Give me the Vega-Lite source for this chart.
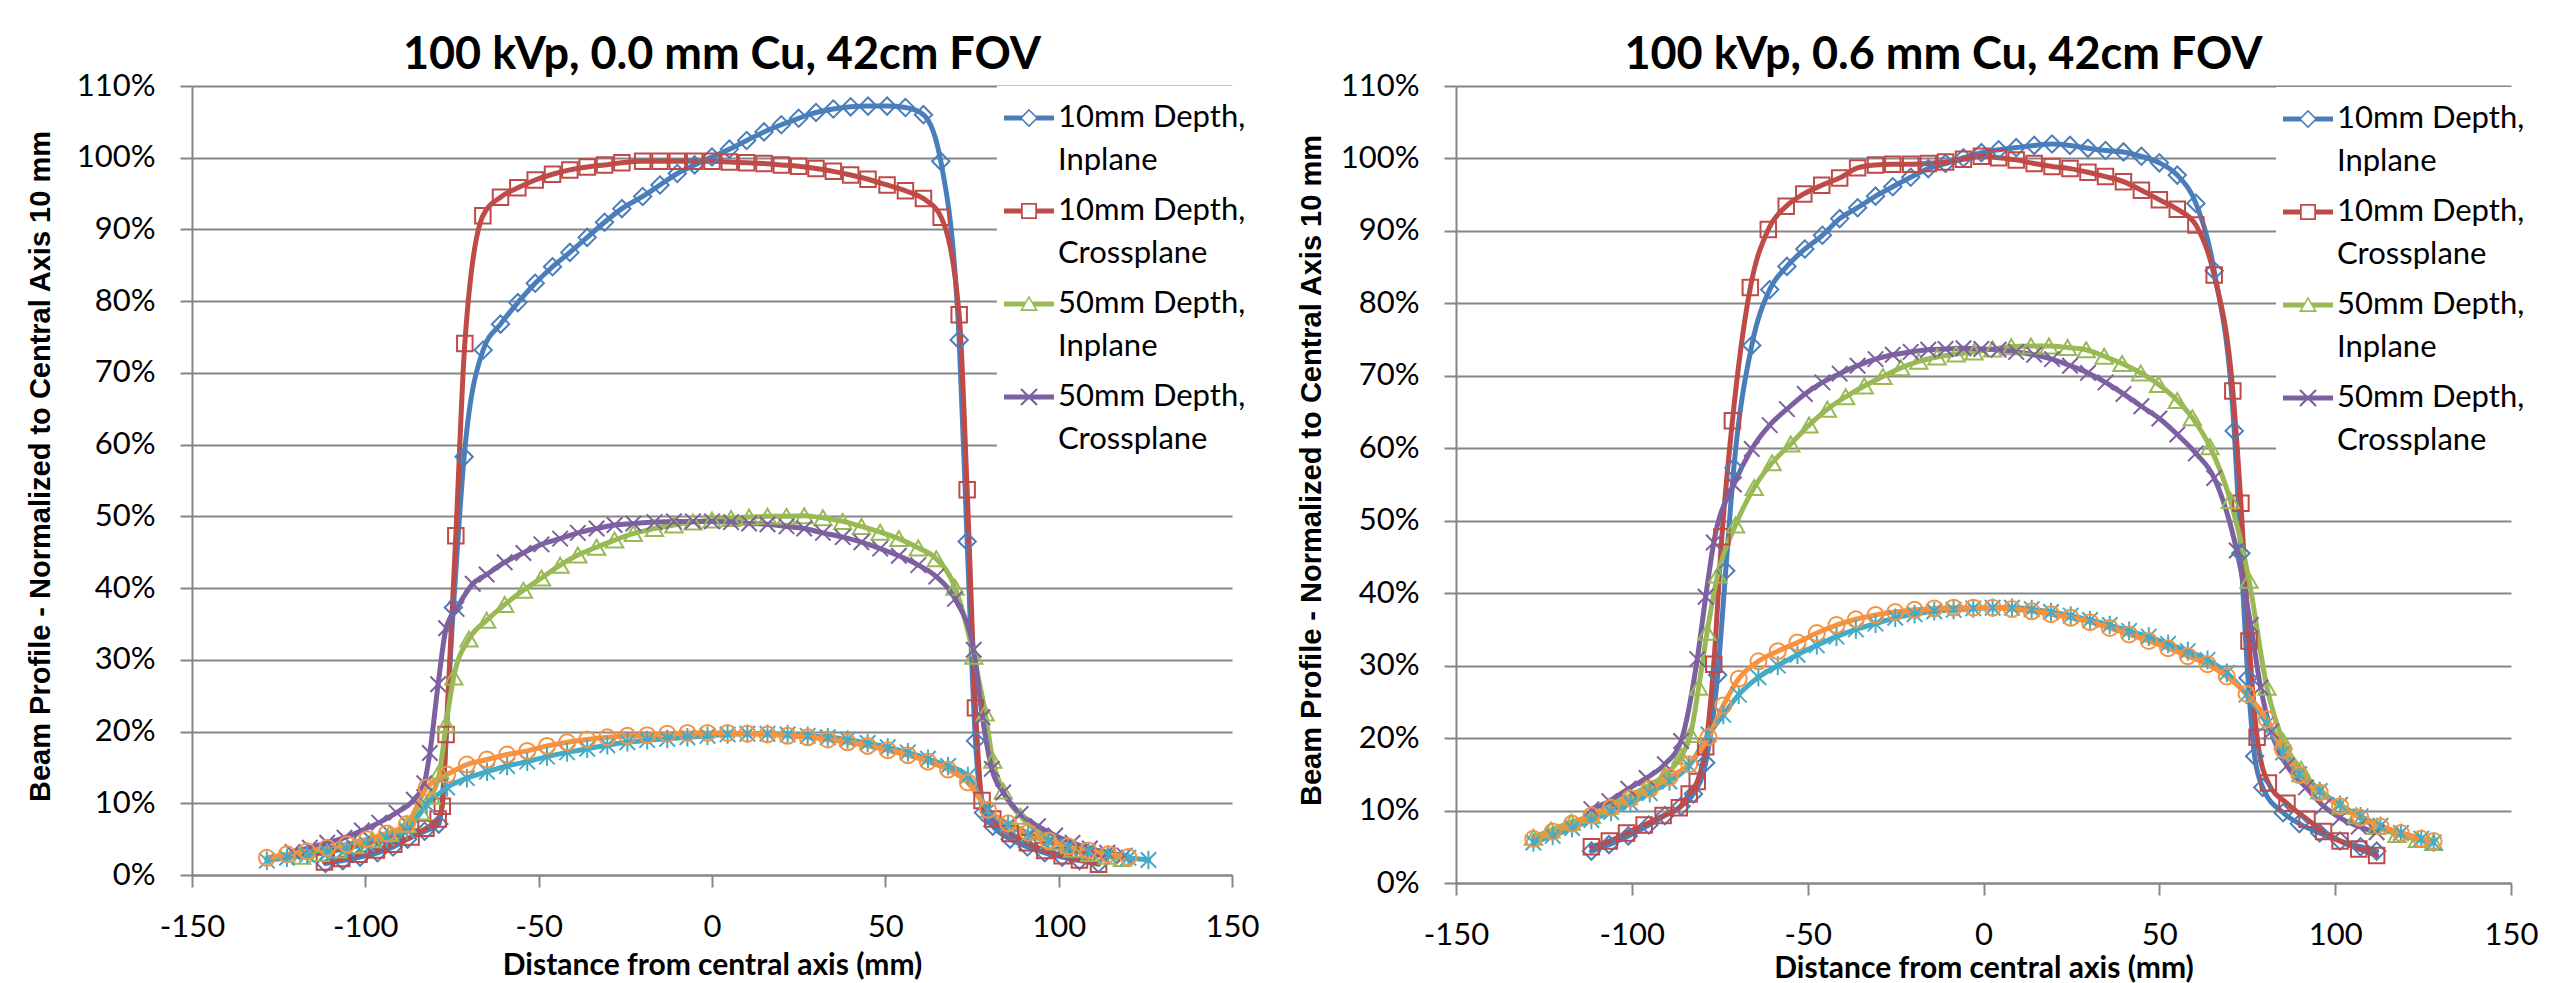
{
"$schema": "https://vega.github.io/schema/vega-lite/v6.json",
"background": "white",
"padding": {"left": 26, "top": 33, "right": 5, "bottom": 5},
"bounds": "flush",
"spacing": 224,
"datasets": {
"left": [
{"series":"10mm Depth, Inplane","x":-111.5,"y":1.6},{"series":"10mm Depth, Inplane","x":-106.5,"y":2.0},{"series":"10mm Depth, Inplane","x":-101.5,"y":2.5},{"series":"10mm Depth, Inplane","x":-96.5,"y":3.1},{"series":"10mm Depth, Inplane","x":-92,"y":3.9},{"series":"10mm Depth, Inplane","x":-87.8,"y":5.0},{"series":"10mm Depth, Inplane","x":-82.9,"y":6.1},{"series":"10mm Depth, Inplane","x":-78.8,"y":7.1},{"series":"10mm Depth, Inplane","x":-74.6,"y":37.3},{"series":"10mm Depth, Inplane","x":-71.5,"y":58.3},{"series":"10mm Depth, Inplane","x":-66,"y":73.2},{"series":"10mm Depth, Inplane","x":-61,"y":76.8},{"series":"10mm Depth, Inplane","x":-56,"y":79.8},{"series":"10mm Depth, Inplane","x":-51,"y":82.5},{"series":"10mm Depth, Inplane","x":-46,"y":84.8},{"series":"10mm Depth, Inplane","x":-41,"y":86.8},{"series":"10mm Depth, Inplane","x":-36,"y":88.9},{"series":"10mm Depth, Inplane","x":-31,"y":91.0},{"series":"10mm Depth, Inplane","x":-26,"y":92.9},{"series":"10mm Depth, Inplane","x":-20,"y":94.6},{"series":"10mm Depth, Inplane","x":-15,"y":96.2},{"series":"10mm Depth, Inplane","x":-10,"y":97.8},{"series":"10mm Depth, Inplane","x":-5,"y":99.0},{"series":"10mm Depth, Inplane","x":0,"y":100.1},{"series":"10mm Depth, Inplane","x":5,"y":101.2},{"series":"10mm Depth, Inplane","x":10,"y":102.4},{"series":"10mm Depth, Inplane","x":15,"y":103.6},{"series":"10mm Depth, Inplane","x":20,"y":104.6},{"series":"10mm Depth, Inplane","x":25,"y":105.5},{"series":"10mm Depth, Inplane","x":30,"y":106.3},{"series":"10mm Depth, Inplane","x":35,"y":106.8},{"series":"10mm Depth, Inplane","x":40,"y":107.1},{"series":"10mm Depth, Inplane","x":45,"y":107.2},{"series":"10mm Depth, Inplane","x":50.5,"y":107.2},{"series":"10mm Depth, Inplane","x":55.8,"y":107.0},{"series":"10mm Depth, Inplane","x":61,"y":106.0},{"series":"10mm Depth, Inplane","x":66,"y":99.5},{"series":"10mm Depth, Inplane","x":71.3,"y":74.6},{"series":"10mm Depth, Inplane","x":73.6,"y":46.5},{"series":"10mm Depth, Inplane","x":76,"y":18.7},{"series":"10mm Depth, Inplane","x":78.3,"y":8.7},{"series":"10mm Depth, Inplane","x":81,"y":6.8},{"series":"10mm Depth, Inplane","x":86,"y":5.0},{"series":"10mm Depth, Inplane","x":91,"y":3.9},{"series":"10mm Depth, Inplane","x":96,"y":3.1},{"series":"10mm Depth, Inplane","x":101,"y":2.5},{"series":"10mm Depth, Inplane","x":106,"y":2.0},{"series":"10mm Depth, Inplane","x":111.5,"y":1.6},
{"series":"10mm Depth, Crossplane","x":-111.8,"y":1.8},{"series":"10mm Depth, Crossplane","x":-106.8,"y":2.3},{"series":"10mm Depth, Crossplane","x":-101.8,"y":2.9},{"series":"10mm Depth, Crossplane","x":-96.8,"y":3.5},{"series":"10mm Depth, Crossplane","x":-91.8,"y":4.3},{"series":"10mm Depth, Crossplane","x":-86.8,"y":5.3},{"series":"10mm Depth, Crossplane","x":-82.5,"y":6.5},{"series":"10mm Depth, Crossplane","x":-79,"y":7.8},{"series":"10mm Depth, Crossplane","x":-77.8,"y":9.6},{"series":"10mm Depth, Crossplane","x":-76.7,"y":19.6},{"series":"10mm Depth, Crossplane","x":-73.9,"y":47.3},{"series":"10mm Depth, Crossplane","x":-71.3,"y":74.1},{"series":"10mm Depth, Crossplane","x":-66.1,"y":91.9},{"series":"10mm Depth, Crossplane","x":-61,"y":94.5},{"series":"10mm Depth, Crossplane","x":-56,"y":95.8},{"series":"10mm Depth, Crossplane","x":-51,"y":96.9},{"series":"10mm Depth, Crossplane","x":-46,"y":97.7},{"series":"10mm Depth, Crossplane","x":-41,"y":98.3},{"series":"10mm Depth, Crossplane","x":-36,"y":98.7},{"series":"10mm Depth, Crossplane","x":-31,"y":99.0},{"series":"10mm Depth, Crossplane","x":-26,"y":99.3},{"series":"10mm Depth, Crossplane","x":-20,"y":99.5},{"series":"10mm Depth, Crossplane","x":-15,"y":99.5},{"series":"10mm Depth, Crossplane","x":-10,"y":99.5},{"series":"10mm Depth, Crossplane","x":-5,"y":99.5},{"series":"10mm Depth, Crossplane","x":0,"y":99.5},{"series":"10mm Depth, Crossplane","x":5,"y":99.4},{"series":"10mm Depth, Crossplane","x":10,"y":99.3},{"series":"10mm Depth, Crossplane","x":15,"y":99.2},{"series":"10mm Depth, Crossplane","x":20,"y":99.0},{"series":"10mm Depth, Crossplane","x":25,"y":98.8},{"series":"10mm Depth, Crossplane","x":30,"y":98.5},{"series":"10mm Depth, Crossplane","x":35,"y":98.1},{"series":"10mm Depth, Crossplane","x":40,"y":97.6},{"series":"10mm Depth, Crossplane","x":45,"y":97.0},{"series":"10mm Depth, Crossplane","x":50.5,"y":96.2},{"series":"10mm Depth, Crossplane","x":55.8,"y":95.4},{"series":"10mm Depth, Crossplane","x":61,"y":94.3},{"series":"10mm Depth, Crossplane","x":66.1,"y":91.7},{"series":"10mm Depth, Crossplane","x":71.3,"y":78.1},{"series":"10mm Depth, Crossplane","x":73.6,"y":53.7},{"series":"10mm Depth, Crossplane","x":76,"y":23.3},{"series":"10mm Depth, Crossplane","x":77.9,"y":10.4},{"series":"10mm Depth, Crossplane","x":81,"y":7.8},{"series":"10mm Depth, Crossplane","x":86,"y":5.8},{"series":"10mm Depth, Crossplane","x":91,"y":4.5},{"series":"10mm Depth, Crossplane","x":96,"y":3.4},{"series":"10mm Depth, Crossplane","x":101,"y":2.7},{"series":"10mm Depth, Crossplane","x":106,"y":2.1},{"series":"10mm Depth, Crossplane","x":111.5,"y":1.5},
{"series":"50mm Depth, Inplane","x":-118.4,"y":2.6},{"series":"50mm Depth, Inplane","x":-113,"y":3.0},{"series":"50mm Depth, Inplane","x":-108,"y":3.5},{"series":"50mm Depth, Inplane","x":-103,"y":4.1},{"series":"50mm Depth, Inplane","x":-98,"y":4.9},{"series":"50mm Depth, Inplane","x":-93,"y":5.8},{"series":"50mm Depth, Inplane","x":-88,"y":7.0},{"series":"50mm Depth, Inplane","x":-84,"y":8.8},{"series":"50mm Depth, Inplane","x":-81,"y":11.0},{"series":"50mm Depth, Inplane","x":-78.5,"y":14.5},{"series":"50mm Depth, Inplane","x":-76.7,"y":21.0},{"series":"50mm Depth, Inplane","x":-74.5,"y":27.6},{"series":"50mm Depth, Inplane","x":-70.1,"y":32.9},{"series":"50mm Depth, Inplane","x":-65,"y":35.5},{"series":"50mm Depth, Inplane","x":-59.8,"y":37.7},{"series":"50mm Depth, Inplane","x":-54.4,"y":39.7},{"series":"50mm Depth, Inplane","x":-49.2,"y":41.4},{"series":"50mm Depth, Inplane","x":-43.8,"y":43.2},{"series":"50mm Depth, Inplane","x":-38.7,"y":44.6},{"series":"50mm Depth, Inplane","x":-33.3,"y":45.7},{"series":"50mm Depth, Inplane","x":-28.1,"y":46.7},{"series":"50mm Depth, Inplane","x":-22.7,"y":47.6},{"series":"50mm Depth, Inplane","x":-16.6,"y":48.3},{"series":"50mm Depth, Inplane","x":-11,"y":48.8},{"series":"50mm Depth, Inplane","x":-5.5,"y":49.2},{"series":"50mm Depth, Inplane","x":0,"y":49.5},{"series":"50mm Depth, Inplane","x":5.5,"y":49.7},{"series":"50mm Depth, Inplane","x":10.7,"y":49.9},{"series":"50mm Depth, Inplane","x":16,"y":50.0},{"series":"50mm Depth, Inplane","x":21.5,"y":50.0},{"series":"50mm Depth, Inplane","x":26.6,"y":50.1},{"series":"50mm Depth, Inplane","x":32,"y":49.8},{"series":"50mm Depth, Inplane","x":37.7,"y":49.3},{"series":"50mm Depth, Inplane","x":43.1,"y":48.6},{"series":"50mm Depth, Inplane","x":48.5,"y":47.8},{"series":"50mm Depth, Inplane","x":53.9,"y":46.9},{"series":"50mm Depth, Inplane","x":59.5,"y":45.6},{"series":"50mm Depth, Inplane","x":64.7,"y":44.1},{"series":"50mm Depth, Inplane","x":70.1,"y":40.1},{"series":"50mm Depth, Inplane","x":75.5,"y":30.5},{"series":"50mm Depth, Inplane","x":78.8,"y":22.6},{"series":"50mm Depth, Inplane","x":81,"y":16.0},{"series":"50mm Depth, Inplane","x":84,"y":11.7},{"series":"50mm Depth, Inplane","x":89,"y":8.2},{"series":"50mm Depth, Inplane","x":94,"y":6.0},{"series":"50mm Depth, Inplane","x":99,"y":4.6},{"series":"50mm Depth, Inplane","x":104,"y":3.6},{"series":"50mm Depth, Inplane","x":109,"y":3.0},{"series":"50mm Depth, Inplane","x":114,"y":2.6},{"series":"50mm Depth, Inplane","x":118.4,"y":2.3},
{"series":"50mm Depth, Crossplane","x":-121,"y":3.2},{"series":"50mm Depth, Crossplane","x":-116,"y":3.8},{"series":"50mm Depth, Crossplane","x":-111,"y":4.5},{"series":"50mm Depth, Crossplane","x":-106,"y":5.2},{"series":"50mm Depth, Crossplane","x":-101,"y":6.2},{"series":"50mm Depth, Crossplane","x":-96,"y":7.3},{"series":"50mm Depth, Crossplane","x":-91,"y":8.7},{"series":"50mm Depth, Crossplane","x":-86,"y":10.5},{"series":"50mm Depth, Crossplane","x":-83,"y":12.8},{"series":"50mm Depth, Crossplane","x":-81.4,"y":17.0},{"series":"50mm Depth, Crossplane","x":-79,"y":26.6},{"series":"50mm Depth, Crossplane","x":-76.7,"y":34.4},{"series":"50mm Depth, Crossplane","x":-73.7,"y":37.1},{"series":"50mm Depth, Crossplane","x":-69,"y":40.6},{"series":"50mm Depth, Crossplane","x":-65,"y":41.9},{"series":"50mm Depth, Crossplane","x":-59.8,"y":43.6},{"series":"50mm Depth, Crossplane","x":-54.4,"y":44.9},{"series":"50mm Depth, Crossplane","x":-49.2,"y":46.1},{"series":"50mm Depth, Crossplane","x":-43.8,"y":46.9},{"series":"50mm Depth, Crossplane","x":-38.7,"y":47.7},{"series":"50mm Depth, Crossplane","x":-33.3,"y":48.3},{"series":"50mm Depth, Crossplane","x":-28.1,"y":48.8},{"series":"50mm Depth, Crossplane","x":-22.7,"y":49.0},{"series":"50mm Depth, Crossplane","x":-16.6,"y":49.2},{"series":"50mm Depth, Crossplane","x":-11,"y":49.3},{"series":"50mm Depth, Crossplane","x":-5.5,"y":49.3},{"series":"50mm Depth, Crossplane","x":0,"y":49.3},{"series":"50mm Depth, Crossplane","x":5.5,"y":49.2},{"series":"50mm Depth, Crossplane","x":10.7,"y":49.0},{"series":"50mm Depth, Crossplane","x":16,"y":48.9},{"series":"50mm Depth, Crossplane","x":21.5,"y":48.6},{"series":"50mm Depth, Crossplane","x":26.6,"y":48.3},{"series":"50mm Depth, Crossplane","x":32,"y":47.7},{"series":"50mm Depth, Crossplane","x":37.7,"y":47.1},{"series":"50mm Depth, Crossplane","x":43.1,"y":46.4},{"series":"50mm Depth, Crossplane","x":48.5,"y":45.5},{"series":"50mm Depth, Crossplane","x":53.9,"y":44.5},{"series":"50mm Depth, Crossplane","x":59.5,"y":43.2},{"series":"50mm Depth, Crossplane","x":64.7,"y":41.6},{"series":"50mm Depth, Crossplane","x":70.1,"y":38.5},{"series":"50mm Depth, Crossplane","x":75.5,"y":31.4},{"series":"50mm Depth, Crossplane","x":78,"y":22.0},{"series":"50mm Depth, Crossplane","x":80.7,"y":14.8},{"series":"50mm Depth, Crossplane","x":84,"y":11.5},{"series":"50mm Depth, Crossplane","x":89,"y":8.5},{"series":"50mm Depth, Crossplane","x":94,"y":6.8},{"series":"50mm Depth, Crossplane","x":99,"y":5.5},{"series":"50mm Depth, Crossplane","x":104,"y":4.5},{"series":"50mm Depth, Crossplane","x":109,"y":3.7},{"series":"50mm Depth, Crossplane","x":114,"y":3.1},{"series":"50mm Depth, Crossplane","x":119,"y":2.7},
{"series":"100mm Depth, Inplane","x":-128.4,"y":2.0},{"series":"100mm Depth, Inplane","x":-122.6,"y":2.4},{"series":"100mm Depth, Inplane","x":-116.8,"y":2.8},{"series":"100mm Depth, Inplane","x":-111,"y":3.2},{"series":"100mm Depth, Inplane","x":-105.3,"y":3.7},{"series":"100mm Depth, Inplane","x":-99.5,"y":4.3},{"series":"100mm Depth, Inplane","x":-93.8,"y":5.1},{"series":"100mm Depth, Inplane","x":-88,"y":6.2},{"series":"100mm Depth, Inplane","x":-82.3,"y":9.8},{"series":"100mm Depth, Inplane","x":-76.4,"y":12.2},{"series":"100mm Depth, Inplane","x":-70.7,"y":13.5},{"series":"100mm Depth, Inplane","x":-64.9,"y":14.4},{"series":"100mm Depth, Inplane","x":-59.1,"y":15.2},{"series":"100mm Depth, Inplane","x":-53.3,"y":15.8},{"series":"100mm Depth, Inplane","x":-47.6,"y":16.5},{"series":"100mm Depth, Inplane","x":-41.8,"y":17.1},{"series":"100mm Depth, Inplane","x":-36,"y":17.6},{"series":"100mm Depth, Inplane","x":-30.2,"y":18.1},{"series":"100mm Depth, Inplane","x":-24.4,"y":18.5},{"series":"100mm Depth, Inplane","x":-18.7,"y":18.8},{"series":"100mm Depth, Inplane","x":-12.9,"y":19.0},{"series":"100mm Depth, Inplane","x":-7.1,"y":19.2},{"series":"100mm Depth, Inplane","x":-1.3,"y":19.4},{"series":"100mm Depth, Inplane","x":4.5,"y":19.6},{"series":"100mm Depth, Inplane","x":10.2,"y":19.7},{"series":"100mm Depth, Inplane","x":16,"y":19.7},{"series":"100mm Depth, Inplane","x":21.8,"y":19.6},{"series":"100mm Depth, Inplane","x":27.6,"y":19.4},{"series":"100mm Depth, Inplane","x":33.4,"y":19.2},{"series":"100mm Depth, Inplane","x":39.1,"y":18.9},{"series":"100mm Depth, Inplane","x":44.9,"y":18.4},{"series":"100mm Depth, Inplane","x":50.7,"y":17.8},{"series":"100mm Depth, Inplane","x":56.5,"y":17.1},{"series":"100mm Depth, Inplane","x":62.3,"y":16.2},{"series":"100mm Depth, Inplane","x":68.1,"y":15.2},{"series":"100mm Depth, Inplane","x":73.8,"y":13.8},{"series":"100mm Depth, Inplane","x":79.6,"y":9.0},{"series":"100mm Depth, Inplane","x":85.4,"y":7.0},{"series":"100mm Depth, Inplane","x":91.2,"y":5.7},{"series":"100mm Depth, Inplane","x":97,"y":4.7},{"series":"100mm Depth, Inplane","x":102.7,"y":3.9},{"series":"100mm Depth, Inplane","x":108.5,"y":3.3},{"series":"100mm Depth, Inplane","x":114.3,"y":2.8},{"series":"100mm Depth, Inplane","x":120.1,"y":2.4},{"series":"100mm Depth, Inplane","x":125.9,"y":2.1},
{"series":"100mm Depth, Crossplane","x":-128.4,"y":2.4},{"series":"100mm Depth, Crossplane","x":-122.6,"y":2.9},{"series":"100mm Depth, Crossplane","x":-116.8,"y":3.3},{"series":"100mm Depth, Crossplane","x":-111,"y":3.8},{"series":"100mm Depth, Crossplane","x":-105.3,"y":4.3},{"series":"100mm Depth, Crossplane","x":-99.5,"y":5.0},{"series":"100mm Depth, Crossplane","x":-93.8,"y":5.8},{"series":"100mm Depth, Crossplane","x":-88,"y":7.1},{"series":"100mm Depth, Crossplane","x":-82.3,"y":12.2},{"series":"100mm Depth, Crossplane","x":-76.4,"y":14.0},{"series":"100mm Depth, Crossplane","x":-70.7,"y":15.4},{"series":"100mm Depth, Crossplane","x":-64.9,"y":16.1},{"series":"100mm Depth, Crossplane","x":-59.1,"y":16.8},{"series":"100mm Depth, Crossplane","x":-53.3,"y":17.3},{"series":"100mm Depth, Crossplane","x":-47.6,"y":18.0},{"series":"100mm Depth, Crossplane","x":-41.8,"y":18.5},{"series":"100mm Depth, Crossplane","x":-36,"y":18.9},{"series":"100mm Depth, Crossplane","x":-30.2,"y":19.2},{"series":"100mm Depth, Crossplane","x":-24.4,"y":19.4},{"series":"100mm Depth, Crossplane","x":-18.7,"y":19.5},{"series":"100mm Depth, Crossplane","x":-12.9,"y":19.7},{"series":"100mm Depth, Crossplane","x":-7.1,"y":19.8},{"series":"100mm Depth, Crossplane","x":-1.3,"y":19.8},{"series":"100mm Depth, Crossplane","x":4.5,"y":19.8},{"series":"100mm Depth, Crossplane","x":10.2,"y":19.7},{"series":"100mm Depth, Crossplane","x":16,"y":19.6},{"series":"100mm Depth, Crossplane","x":21.8,"y":19.4},{"series":"100mm Depth, Crossplane","x":27.6,"y":19.2},{"series":"100mm Depth, Crossplane","x":33.4,"y":18.9},{"series":"100mm Depth, Crossplane","x":39.1,"y":18.5},{"series":"100mm Depth, Crossplane","x":44.9,"y":18.0},{"series":"100mm Depth, Crossplane","x":50.7,"y":17.4},{"series":"100mm Depth, Crossplane","x":56.5,"y":16.7},{"series":"100mm Depth, Crossplane","x":62.3,"y":15.8},{"series":"100mm Depth, Crossplane","x":68.1,"y":14.7},{"series":"100mm Depth, Crossplane","x":73.8,"y":12.9},{"series":"100mm Depth, Crossplane","x":79.6,"y":9.1},{"series":"100mm Depth, Crossplane","x":85.4,"y":7.2},{"series":"100mm Depth, Crossplane","x":91.2,"y":5.9},{"series":"100mm Depth, Crossplane","x":97,"y":4.8},{"series":"100mm Depth, Crossplane","x":102.7,"y":4.0},{"series":"100mm Depth, Crossplane","x":108.5,"y":3.4},{"series":"100mm Depth, Crossplane","x":114.3,"y":2.9},{"series":"100mm Depth, Crossplane","x":120.1,"y":2.5}
],
"right": [
{"series":"10mm Depth, Inplane","x":-111.5,"y":4.4},{"series":"10mm Depth, Inplane","x":-106.5,"y":5.3},{"series":"10mm Depth, Inplane","x":-101,"y":6.5},{"series":"10mm Depth, Inplane","x":-95.2,"y":8.0},{"series":"10mm Depth, Inplane","x":-90.6,"y":9.3},{"series":"10mm Depth, Inplane","x":-86,"y":10.6},{"series":"10mm Depth, Inplane","x":-82.5,"y":12.3},{"series":"10mm Depth, Inplane","x":-79,"y":16.6},{"series":"10mm Depth, Inplane","x":-75.6,"y":28.7},{"series":"10mm Depth, Inplane","x":-73.3,"y":43.1},{"series":"10mm Depth, Inplane","x":-71,"y":57.3},{"series":"10mm Depth, Inplane","x":-65.9,"y":74.2},{"series":"10mm Depth, Inplane","x":-60.8,"y":81.9},{"series":"10mm Depth, Inplane","x":-55.9,"y":85.1},{"series":"10mm Depth, Inplane","x":-50.8,"y":87.5},{"series":"10mm Depth, Inplane","x":-45.8,"y":89.4},{"series":"10mm Depth, Inplane","x":-40.9,"y":91.7},{"series":"10mm Depth, Inplane","x":-35.8,"y":93.2},{"series":"10mm Depth, Inplane","x":-30.7,"y":94.8},{"series":"10mm Depth, Inplane","x":-25.8,"y":96.1},{"series":"10mm Depth, Inplane","x":-20.7,"y":97.4},{"series":"10mm Depth, Inplane","x":-15.7,"y":98.6},{"series":"10mm Depth, Inplane","x":-10.8,"y":99.3},{"series":"10mm Depth, Inplane","x":-5.7,"y":100.1},{"series":"10mm Depth, Inplane","x":-0.6,"y":100.8},{"series":"10mm Depth, Inplane","x":4.3,"y":101.2},{"series":"10mm Depth, Inplane","x":9.3,"y":101.5},{"series":"10mm Depth, Inplane","x":14.4,"y":101.8},{"series":"10mm Depth, Inplane","x":19.5,"y":102.0},{"series":"10mm Depth, Inplane","x":24.6,"y":101.8},{"series":"10mm Depth, Inplane","x":29.7,"y":101.4},{"series":"10mm Depth, Inplane","x":34.7,"y":101.1},{"series":"10mm Depth, Inplane","x":39.8,"y":100.9},{"series":"10mm Depth, Inplane","x":44.9,"y":100.3},{"series":"10mm Depth, Inplane","x":50,"y":99.4},{"series":"10mm Depth, Inplane","x":55.1,"y":97.7},{"series":"10mm Depth, Inplane","x":60.4,"y":93.8},{"series":"10mm Depth, Inplane","x":65.6,"y":84.5},{"series":"10mm Depth, Inplane","x":71.3,"y":62.4},{"series":"10mm Depth, Inplane","x":73.2,"y":45.5},{"series":"10mm Depth, Inplane","x":75.2,"y":28.3},{"series":"10mm Depth, Inplane","x":77.1,"y":17.5},{"series":"10mm Depth, Inplane","x":79.4,"y":13.2},{"series":"10mm Depth, Inplane","x":85.2,"y":9.7},{"series":"10mm Depth, Inplane","x":89.8,"y":8.2},{"series":"10mm Depth, Inplane","x":95.6,"y":6.9},{"series":"10mm Depth, Inplane","x":101.4,"y":5.8},{"series":"10mm Depth, Inplane","x":107.2,"y":5.0},{"series":"10mm Depth, Inplane","x":111.8,"y":4.4},
{"series":"10mm Depth, Crossplane","x":-111.5,"y":5.0},{"series":"10mm Depth, Crossplane","x":-106.4,"y":5.8},{"series":"10mm Depth, Crossplane","x":-101.5,"y":6.9},{"series":"10mm Depth, Crossplane","x":-96.5,"y":8.0},{"series":"10mm Depth, Crossplane","x":-91.1,"y":9.3},{"series":"10mm Depth, Crossplane","x":-86.5,"y":10.4},{"series":"10mm Depth, Crossplane","x":-83.7,"y":12.3},{"series":"10mm Depth, Crossplane","x":-81.4,"y":14.0},{"series":"10mm Depth, Crossplane","x":-79,"y":18.8},{"series":"10mm Depth, Crossplane","x":-76.7,"y":30.2},{"series":"10mm Depth, Crossplane","x":-74.4,"y":47.8},{"series":"10mm Depth, Crossplane","x":-71.4,"y":63.8},{"series":"10mm Depth, Crossplane","x":-66.3,"y":82.2},{"series":"10mm Depth, Crossplane","x":-61.2,"y":90.2},{"series":"10mm Depth, Crossplane","x":-56.1,"y":93.4},{"series":"10mm Depth, Crossplane","x":-51.1,"y":95.1},{"series":"10mm Depth, Crossplane","x":-46,"y":96.3},{"series":"10mm Depth, Crossplane","x":-40.9,"y":97.3},{"series":"10mm Depth, Crossplane","x":-35.8,"y":98.7},{"series":"10mm Depth, Crossplane","x":-30.7,"y":99.1},{"series":"10mm Depth, Crossplane","x":-25.8,"y":99.2},{"series":"10mm Depth, Crossplane","x":-20.7,"y":99.2},{"series":"10mm Depth, Crossplane","x":-15.7,"y":99.3},{"series":"10mm Depth, Crossplane","x":-10.8,"y":99.5},{"series":"10mm Depth, Crossplane","x":-5.7,"y":99.9},{"series":"10mm Depth, Crossplane","x":-0.6,"y":100.3},{"series":"10mm Depth, Crossplane","x":4.3,"y":100.1},{"series":"10mm Depth, Crossplane","x":9.3,"y":99.8},{"series":"10mm Depth, Crossplane","x":14.4,"y":99.3},{"series":"10mm Depth, Crossplane","x":19.5,"y":98.9},{"series":"10mm Depth, Crossplane","x":24.6,"y":98.6},{"series":"10mm Depth, Crossplane","x":29.7,"y":98.1},{"series":"10mm Depth, Crossplane","x":34.7,"y":97.5},{"series":"10mm Depth, Crossplane","x":39.8,"y":96.8},{"series":"10mm Depth, Crossplane","x":44.9,"y":95.6},{"series":"10mm Depth, Crossplane","x":50,"y":94.3},{"series":"10mm Depth, Crossplane","x":55.1,"y":93.0},{"series":"10mm Depth, Crossplane","x":60.4,"y":90.8},{"series":"10mm Depth, Crossplane","x":65.6,"y":83.9},{"series":"10mm Depth, Crossplane","x":70.9,"y":67.9},{"series":"10mm Depth, Crossplane","x":73.2,"y":52.4},{"series":"10mm Depth, Crossplane","x":75.5,"y":33.4},{"series":"10mm Depth, Crossplane","x":77.8,"y":20.1},{"series":"10mm Depth, Crossplane","x":81,"y":13.8},{"series":"10mm Depth, Crossplane","x":86.3,"y":11.0},{"series":"10mm Depth, Crossplane","x":92,"y":8.8},{"series":"10mm Depth, Crossplane","x":96.7,"y":7.1},{"series":"10mm Depth, Crossplane","x":101.4,"y":5.8},{"series":"10mm Depth, Crossplane","x":106.7,"y":4.7},{"series":"10mm Depth, Crossplane","x":111.8,"y":3.8},
{"series":"50mm Depth, Inplane","x":-128,"y":6.3},{"series":"50mm Depth, Inplane","x":-123,"y":7.3},{"series":"50mm Depth, Inplane","x":-117.2,"y":8.4},{"series":"50mm Depth, Inplane","x":-111.5,"y":9.3},{"series":"50mm Depth, Inplane","x":-106.4,"y":10.6},{"series":"50mm Depth, Inplane","x":-101.1,"y":11.9},{"series":"50mm Depth, Inplane","x":-95.8,"y":13.3},{"series":"50mm Depth, Inplane","x":-90.6,"y":14.9},{"series":"50mm Depth, Inplane","x":-86,"y":17.5},{"series":"50mm Depth, Inplane","x":-83.3,"y":20.5},{"series":"50mm Depth, Inplane","x":-81,"y":27.0},{"series":"50mm Depth, Inplane","x":-78.6,"y":34.6},{"series":"50mm Depth, Inplane","x":-75.6,"y":42.5},{"series":"50mm Depth, Inplane","x":-70.5,"y":49.4},{"series":"50mm Depth, Inplane","x":-65.2,"y":54.6},{"series":"50mm Depth, Inplane","x":-60.1,"y":58.0},{"series":"50mm Depth, Inplane","x":-54.8,"y":60.6},{"series":"50mm Depth, Inplane","x":-49.6,"y":63.2},{"series":"50mm Depth, Inplane","x":-44.4,"y":65.4},{"series":"50mm Depth, Inplane","x":-39.2,"y":67.1},{"series":"50mm Depth, Inplane","x":-33.9,"y":68.6},{"series":"50mm Depth, Inplane","x":-28.6,"y":69.9},{"series":"50mm Depth, Inplane","x":-23.5,"y":71.1},{"series":"50mm Depth, Inplane","x":-18.4,"y":72.0},{"series":"50mm Depth, Inplane","x":-13.2,"y":72.6},{"series":"50mm Depth, Inplane","x":-7.8,"y":73.0},{"series":"50mm Depth, Inplane","x":-2.7,"y":73.3},{"series":"50mm Depth, Inplane","x":2.6,"y":73.7},{"series":"50mm Depth, Inplane","x":7.9,"y":74.0},{"series":"50mm Depth, Inplane","x":13.5,"y":74.1},{"series":"50mm Depth, Inplane","x":18.6,"y":74.1},{"series":"50mm Depth, Inplane","x":23.9,"y":73.9},{"series":"50mm Depth, Inplane","x":29.2,"y":73.6},{"series":"50mm Depth, Inplane","x":34.3,"y":72.7},{"series":"50mm Depth, Inplane","x":39.4,"y":71.7},{"series":"50mm Depth, Inplane","x":44.7,"y":70.4},{"series":"50mm Depth, Inplane","x":49.8,"y":68.8},{"series":"50mm Depth, Inplane","x":55.1,"y":66.6},{"series":"50mm Depth, Inplane","x":59.4,"y":64.2},{"series":"50mm Depth, Inplane","x":64.4,"y":60.2},{"series":"50mm Depth, Inplane","x":70.2,"y":52.8},{"series":"50mm Depth, Inplane","x":75.5,"y":41.8},{"series":"50mm Depth, Inplane","x":80.6,"y":27.0},{"series":"50mm Depth, Inplane","x":85.2,"y":19.6},{"series":"50mm Depth, Inplane","x":90.3,"y":15.7},{"series":"50mm Depth, Inplane","x":95.6,"y":12.7},{"series":"50mm Depth, Inplane","x":101.4,"y":10.6},{"series":"50mm Depth, Inplane","x":106,"y":9.3},{"series":"50mm Depth, Inplane","x":111.8,"y":7.8},{"series":"50mm Depth, Inplane","x":117.6,"y":6.7},{"series":"50mm Depth, Inplane","x":123.4,"y":6.0},{"series":"50mm Depth, Inplane","x":128,"y":5.6},
{"series":"50mm Depth, Crossplane","x":-111.5,"y":10.2},{"series":"50mm Depth, Crossplane","x":-106.4,"y":11.3},{"series":"50mm Depth, Crossplane","x":-101,"y":13.0},{"series":"50mm Depth, Crossplane","x":-95.8,"y":14.5},{"series":"50mm Depth, Crossplane","x":-90.6,"y":16.4},{"series":"50mm Depth, Crossplane","x":-86,"y":19.6},{"series":"50mm Depth, Crossplane","x":-81.4,"y":30.9},{"series":"50mm Depth, Crossplane","x":-79,"y":39.5},{"series":"50mm Depth, Crossplane","x":-76.7,"y":47.0},{"series":"50mm Depth, Crossplane","x":-71,"y":55.0},{"series":"50mm Depth, Crossplane","x":-65.9,"y":59.9},{"series":"50mm Depth, Crossplane","x":-60.8,"y":63.2},{"series":"50mm Depth, Crossplane","x":-55.9,"y":65.4},{"series":"50mm Depth, Crossplane","x":-50.8,"y":67.5},{"series":"50mm Depth, Crossplane","x":-45.8,"y":69.1},{"series":"50mm Depth, Crossplane","x":-40.9,"y":70.3},{"series":"50mm Depth, Crossplane","x":-35.8,"y":71.4},{"series":"50mm Depth, Crossplane","x":-30.7,"y":72.3},{"series":"50mm Depth, Crossplane","x":-25.8,"y":72.9},{"series":"50mm Depth, Crossplane","x":-20.7,"y":73.3},{"series":"50mm Depth, Crossplane","x":-15.7,"y":73.6},{"series":"50mm Depth, Crossplane","x":-10.8,"y":73.7},{"series":"50mm Depth, Crossplane","x":-5.7,"y":73.8},{"series":"50mm Depth, Crossplane","x":-0.6,"y":73.7},{"series":"50mm Depth, Crossplane","x":4.3,"y":73.6},{"series":"50mm Depth, Crossplane","x":9.3,"y":73.3},{"series":"50mm Depth, Crossplane","x":14.4,"y":72.9},{"series":"50mm Depth, Crossplane","x":19.5,"y":72.3},{"series":"50mm Depth, Crossplane","x":24.6,"y":71.4},{"series":"50mm Depth, Crossplane","x":29.7,"y":70.4},{"series":"50mm Depth, Crossplane","x":34.7,"y":69.1},{"series":"50mm Depth, Crossplane","x":39.8,"y":67.5},{"series":"50mm Depth, Crossplane","x":44.9,"y":65.8},{"series":"50mm Depth, Crossplane","x":50,"y":64.1},{"series":"50mm Depth, Crossplane","x":55.1,"y":61.9},{"series":"50mm Depth, Crossplane","x":60.4,"y":59.3},{"series":"50mm Depth, Crossplane","x":65.6,"y":55.9},{"series":"50mm Depth, Crossplane","x":72,"y":45.9},{"series":"50mm Depth, Crossplane","x":76,"y":35.6},{"series":"50mm Depth, Crossplane","x":78.8,"y":27.0},{"series":"50mm Depth, Crossplane","x":81.8,"y":20.9},{"series":"50mm Depth, Crossplane","x":86.3,"y":16.2},{"series":"50mm Depth, Crossplane","x":91.7,"y":13.2},{"series":"50mm Depth, Crossplane","x":96.7,"y":10.6},{"series":"50mm Depth, Crossplane","x":101.4,"y":9.0},{"series":"50mm Depth, Crossplane","x":106.7,"y":7.8},{"series":"50mm Depth, Crossplane","x":111.8,"y":7.0},
{"series":"100mm Depth, Inplane","x":-128,"y":5.6},{"series":"100mm Depth, Inplane","x":-122.5,"y":6.5},{"series":"100mm Depth, Inplane","x":-117,"y":7.6},{"series":"100mm Depth, Inplane","x":-111.5,"y":8.7},{"series":"100mm Depth, Inplane","x":-105.9,"y":9.8},{"series":"100mm Depth, Inplane","x":-100.4,"y":11.0},{"series":"100mm Depth, Inplane","x":-94.9,"y":12.4},{"series":"100mm Depth, Inplane","x":-89.3,"y":14.0},{"series":"100mm Depth, Inplane","x":-83.7,"y":16.2},{"series":"100mm Depth, Inplane","x":-78.2,"y":20.5},{"series":"100mm Depth, Inplane","x":-74,"y":23.2},{"series":"100mm Depth, Inplane","x":-69.6,"y":26.0},{"series":"100mm Depth, Inplane","x":-64,"y":28.4},{"series":"100mm Depth, Inplane","x":-58.5,"y":30.0},{"series":"100mm Depth, Inplane","x":-52.9,"y":31.5},{"series":"100mm Depth, Inplane","x":-47.4,"y":32.8},{"series":"100mm Depth, Inplane","x":-41.8,"y":34.0},{"series":"100mm Depth, Inplane","x":-36.3,"y":35.0},{"series":"100mm Depth, Inplane","x":-30.7,"y":35.8},{"series":"100mm Depth, Inplane","x":-25.1,"y":36.6},{"series":"100mm Depth, Inplane","x":-19.6,"y":37.1},{"series":"100mm Depth, Inplane","x":-14,"y":37.5},{"series":"100mm Depth, Inplane","x":-8.5,"y":37.7},{"series":"100mm Depth, Inplane","x":-2.9,"y":37.9},{"series":"100mm Depth, Inplane","x":2.6,"y":38.0},{"series":"100mm Depth, Inplane","x":8.1,"y":38.0},{"series":"100mm Depth, Inplane","x":13.7,"y":37.8},{"series":"100mm Depth, Inplane","x":19.2,"y":37.4},{"series":"100mm Depth, Inplane","x":24.8,"y":36.9},{"series":"100mm Depth, Inplane","x":30.3,"y":36.3},{"series":"100mm Depth, Inplane","x":35.9,"y":35.6},{"series":"100mm Depth, Inplane","x":41.4,"y":34.8},{"series":"100mm Depth, Inplane","x":47,"y":34.0},{"series":"100mm Depth, Inplane","x":52.5,"y":33.0},{"series":"100mm Depth, Inplane","x":58.1,"y":32.0},{"series":"100mm Depth, Inplane","x":63.7,"y":30.8},{"series":"100mm Depth, Inplane","x":69.2,"y":29.0},{"series":"100mm Depth, Inplane","x":74.8,"y":26.0},{"series":"100mm Depth, Inplane","x":80.6,"y":22.0},{"series":"100mm Depth, Inplane","x":85.2,"y":18.0},{"series":"100mm Depth, Inplane","x":89.8,"y":15.0},{"series":"100mm Depth, Inplane","x":95.6,"y":12.7},{"series":"100mm Depth, Inplane","x":101.4,"y":10.8},{"series":"100mm Depth, Inplane","x":107.2,"y":9.2},{"series":"100mm Depth, Inplane","x":112.9,"y":7.9},{"series":"100mm Depth, Inplane","x":118.7,"y":6.9},{"series":"100mm Depth, Inplane","x":124.5,"y":6.1},{"series":"100mm Depth, Inplane","x":128,"y":5.6},
{"series":"100mm Depth, Crossplane","x":-128,"y":6.1},{"series":"100mm Depth, Crossplane","x":-122.5,"y":7.1},{"series":"100mm Depth, Crossplane","x":-117,"y":8.2},{"series":"100mm Depth, Crossplane","x":-111.5,"y":9.3},{"series":"100mm Depth, Crossplane","x":-105.9,"y":10.4},{"series":"100mm Depth, Crossplane","x":-100.4,"y":11.7},{"series":"100mm Depth, Crossplane","x":-94.9,"y":13.0},{"series":"100mm Depth, Crossplane","x":-89.3,"y":14.6},{"series":"100mm Depth, Crossplane","x":-83.7,"y":16.4},{"series":"100mm Depth, Crossplane","x":-78.2,"y":20.1},{"series":"100mm Depth, Crossplane","x":-74,"y":24.5},{"series":"100mm Depth, Crossplane","x":-69.6,"y":28.2},{"series":"100mm Depth, Crossplane","x":-64,"y":30.6},{"series":"100mm Depth, Crossplane","x":-58.5,"y":32.0},{"series":"100mm Depth, Crossplane","x":-52.9,"y":33.2},{"series":"100mm Depth, Crossplane","x":-47.4,"y":34.5},{"series":"100mm Depth, Crossplane","x":-41.8,"y":35.6},{"series":"100mm Depth, Crossplane","x":-36.3,"y":36.4},{"series":"100mm Depth, Crossplane","x":-30.7,"y":37.0},{"series":"100mm Depth, Crossplane","x":-25.1,"y":37.4},{"series":"100mm Depth, Crossplane","x":-19.6,"y":37.7},{"series":"100mm Depth, Crossplane","x":-14,"y":37.9},{"series":"100mm Depth, Crossplane","x":-8.5,"y":38.0},{"series":"100mm Depth, Crossplane","x":-2.9,"y":38.0},{"series":"100mm Depth, Crossplane","x":2.6,"y":38.0},{"series":"100mm Depth, Crossplane","x":8.1,"y":37.8},{"series":"100mm Depth, Crossplane","x":13.7,"y":37.5},{"series":"100mm Depth, Crossplane","x":19.2,"y":37.1},{"series":"100mm Depth, Crossplane","x":24.8,"y":36.6},{"series":"100mm Depth, Crossplane","x":30.3,"y":36.0},{"series":"100mm Depth, Crossplane","x":35.9,"y":35.2},{"series":"100mm Depth, Crossplane","x":41.4,"y":34.3},{"series":"100mm Depth, Crossplane","x":47,"y":33.4},{"series":"100mm Depth, Crossplane","x":52.5,"y":32.4},{"series":"100mm Depth, Crossplane","x":58.1,"y":31.3},{"series":"100mm Depth, Crossplane","x":63.7,"y":30.2},{"series":"100mm Depth, Crossplane","x":69.2,"y":28.5},{"series":"100mm Depth, Crossplane","x":74.8,"y":26.1},{"series":"100mm Depth, Crossplane","x":80.6,"y":22.6},{"series":"100mm Depth, Crossplane","x":85.2,"y":18.4},{"series":"100mm Depth, Crossplane","x":89.8,"y":14.9},{"series":"100mm Depth, Crossplane","x":95.6,"y":12.5},{"series":"100mm Depth, Crossplane","x":101.4,"y":10.6},{"series":"100mm Depth, Crossplane","x":107.2,"y":9.0},{"series":"100mm Depth, Crossplane","x":112.9,"y":7.8},{"series":"100mm Depth, Crossplane","x":118.7,"y":6.9},{"series":"100mm Depth, Crossplane","x":124.5,"y":6.1},{"series":"100mm Depth, Crossplane","x":128,"y":5.8}
]
},
"hconcat": [
{
"width": 1040, "height": 789,
"data": {"name": "left"},
"title": {"text": "100 kVp, 0.0 mm Cu, 42cm FOV", "dx": 10},
"encoding": {
"x": {"field": "x", "type": "quantitative", "scale": {"domain": [-150, 150], "nice": false, "zero": false}, "axis": {"values": [-150, -100, -50, 0, 50, 100, 150], "labelExpr": "'' + datum.value", "title": "Distance from central axis (mm)", "titlePadding": 8, "grid": false, "labelFlush": false, "labelOverlap": false, "labelBound": false}},
"y": {"field": "y", "type": "quantitative", "scale": {"domain": [0, 110], "nice": false, "zero": false}, "axis": {"values": [0, 10, 20, 30, 40, 50, 60, 70, 80, 90, 100, 110], "labelExpr": "datum.value + '%'", "title": "Beam Profile - Normalized to Central Axis 10 mm", "titlePadding": 21, "titleY": 380, "grid": true, "labelOverlap": false}},
"color": {"field": "series", "type": "nominal", "scale": {"domain": ["10mm Depth, Inplane", "10mm Depth, Crossplane", "50mm Depth, Inplane", "50mm Depth, Crossplane", "100mm Depth, Inplane", "100mm Depth, Crossplane"], "range": ["#4A7EBB", "#BE4B48", "#98B954", "#7D60A0", "#46AAC5", "#F69240"]},
"legend": {"orient": "none", "legendX": 805, "legendY": 0, "values": ["10mm Depth, Inplane", "10mm Depth, Crossplane", "50mm Depth, Inplane", "50mm Depth, Crossplane"], "title": null, "labelExpr": "[split(datum.label, ', ')[0] + ',', split(datum.label, ', ')[1]]", "symbolSize": 2500, "symbolStrokeWidth": 0, "symbolOpacity": 1, "labelFont": "Lato", "labelFontSize": 31, "labelColor": "#000000", "labelOffset": 4, "labelLimit": 500, "labelBaseline": "middle", "fillColor": "#ffffff", "padding": 7, "rowPadding": 10}}
},
"layer": [
{"transform": [{"filter": "datum.x > 1000"}], "mark": {"type": "point", "filled": true, "opacity": 1},
"encoding": {
"shape": {"field": "series", "type": "nominal", "scale": {"domain": ["10mm Depth, Inplane", "10mm Depth, Crossplane", "50mm Depth, Inplane", "50mm Depth, Crossplane", "100mm Depth, Inplane", "100mm Depth, Crossplane"], "range": ["M-1,-0.1L-0.28,-0.1L-0.28,0.1L-1,0.1Z M0.28,-0.1L1,-0.1L1,0.1L0.28,0.1Z M0,-0.37L0.37,0L0,0.37L-0.37,0Z M0,-0.28L-0.28,0L0,0.28L0.28,0Z", "M-1,-0.1L-0.28,-0.1L-0.28,0.1L-1,0.1Z M0.28,-0.1L1,-0.1L1,0.1L0.28,0.1Z M-0.32,-0.32L0.32,-0.32L0.32,0.32L-0.32,0.32Z M-0.25,-0.25L-0.25,0.25L0.25,0.25L0.25,-0.25Z", "M-1,-0.1L-0.12,-0.1L-0.2,0.1L-1,0.1Z M0.12,-0.1L1,-0.1L1,0.1L0.2,0.1Z M0,-0.34L0.36,0.28L-0.36,0.28Z M0,-0.22L-0.25,0.21L0.25,0.21Z", "M-1,-0.1L1,-0.1L1,0.1L-1,0.1Z M-0.35,-0.29L-0.29,-0.35L0.35,0.29L0.29,0.35Z M0.29,-0.35L0.35,-0.29L-0.29,0.35L-0.35,0.29Z", "circle", "circle"]},
"legend": {"orient": "none", "legendX": 805, "legendY": 0, "values": ["10mm Depth, Inplane", "10mm Depth, Crossplane", "50mm Depth, Inplane", "50mm Depth, Crossplane"], "title": null, "labelExpr": "[split(datum.label, ', ')[0] + ',', split(datum.label, ', ')[1]]", "symbolSize": 2500, "symbolStrokeWidth": 0, "symbolOpacity": 1, "labelFont": "Lato", "labelFontSize": 31, "labelColor": "#000000", "labelOffset": 4, "labelLimit": 500, "labelBaseline": "middle", "fillColor": "#ffffff", "padding": 7, "rowPadding": 10}}
}},
{"mark": {"type": "line", "strokeWidth": 5, "interpolate": "monotone", "strokeJoin": "round", "strokeCap": "round"}, "encoding": {}},
{"transform": [{"filter": {"field": "series", "equal": "10mm Depth, Inplane"}}], "mark": {"type": "point", "shape": "diamond", "filled": false, "size": 300, "strokeWidth": 2, "opacity": 1}},
{"transform": [{"filter": {"field": "series", "equal": "10mm Depth, Crossplane"}}], "mark": {"type": "point", "shape": "square", "filled": false, "size": 240, "strokeWidth": 2, "opacity": 1}},
{"transform": [{"filter": {"field": "series", "equal": "50mm Depth, Inplane"}}], "mark": {"type": "point", "shape": "triangle-up", "filled": false, "size": 300, "strokeWidth": 2, "opacity": 1}},
{"transform": [{"filter": {"field": "series", "equal": "50mm Depth, Crossplane"}}], "mark": {"type": "point", "shape": "M-1,-1L1,1M-1,1L1,-1", "filled": false, "size": 240, "strokeWidth": 2, "opacity": 1}},
{"transform": [{"filter": {"field": "series", "equal": "100mm Depth, Inplane"}}], "mark": {"type": "point", "shape": "M-1,-1L1,1M-1,1L1,-1M0,-1.2L0,1.2", "filled": false, "size": 240, "strokeWidth": 2, "opacity": 1}},
{"transform": [{"filter": {"field": "series", "equal": "100mm Depth, Crossplane"}}], "mark": {"type": "point", "shape": "circle", "filled": false, "size": 256, "strokeWidth": 2, "opacity": 1}}
]
},
{
"width": 1055, "height": 797,
"data": {"name": "right"},
"title": {"text": "100 kVp, 0.6 mm Cu, 42cm FOV", "dx": -40},
"encoding": {
"x": {"field": "x", "type": "quantitative", "scale": {"domain": [-150, 150], "nice": false, "zero": false}, "axis": {"values": [-150, -100, -50, 0, 50, 100, 150], "labelExpr": "'' + datum.value", "title": "Distance from central axis (mm)", "titlePadding": 3, "grid": false, "labelFlush": false, "labelOverlap": false, "labelBound": false}},
"y": {"field": "y", "type": "quantitative", "scale": {"domain": [0, 110], "nice": false, "zero": false}, "axis": {"values": [0, 10, 20, 30, 40, 50, 60, 70, 80, 90, 100, 110], "labelExpr": "datum.value + '%'", "title": "Beam Profile - Normalized to Central Axis 10 mm", "titlePadding": 14, "titleY": 384, "grid": true, "labelOverlap": false}},
"color": {"field": "series", "type": "nominal", "scale": {"domain": ["10mm Depth, Inplane", "10mm Depth, Crossplane", "50mm Depth, Inplane", "50mm Depth, Crossplane", "100mm Depth, Inplane", "100mm Depth, Crossplane"], "range": ["#4A7EBB", "#BE4B48", "#98B954", "#7D60A0", "#46AAC5", "#F69240"]},
"legend": {"orient": "none", "legendX": 820, "legendY": 1, "values": ["10mm Depth, Inplane", "10mm Depth, Crossplane", "50mm Depth, Inplane", "50mm Depth, Crossplane"], "title": null, "labelExpr": "[split(datum.label, ', ')[0] + ',', split(datum.label, ', ')[1]]", "symbolSize": 2500, "symbolStrokeWidth": 0, "symbolOpacity": 1, "labelFont": "Lato", "labelFontSize": 31, "labelColor": "#000000", "labelOffset": 4, "labelLimit": 500, "labelBaseline": "middle", "fillColor": "#ffffff", "padding": 7, "rowPadding": 10}}
},
"layer": [
{"transform": [{"filter": "datum.x > 1000"}], "mark": {"type": "point", "filled": true, "opacity": 1},
"encoding": {
"shape": {"field": "series", "type": "nominal", "scale": {"domain": ["10mm Depth, Inplane", "10mm Depth, Crossplane", "50mm Depth, Inplane", "50mm Depth, Crossplane", "100mm Depth, Inplane", "100mm Depth, Crossplane"], "range": ["M-1,-0.1L-0.28,-0.1L-0.28,0.1L-1,0.1Z M0.28,-0.1L1,-0.1L1,0.1L0.28,0.1Z M0,-0.37L0.37,0L0,0.37L-0.37,0Z M0,-0.28L-0.28,0L0,0.28L0.28,0Z", "M-1,-0.1L-0.28,-0.1L-0.28,0.1L-1,0.1Z M0.28,-0.1L1,-0.1L1,0.1L0.28,0.1Z M-0.32,-0.32L0.32,-0.32L0.32,0.32L-0.32,0.32Z M-0.25,-0.25L-0.25,0.25L0.25,0.25L0.25,-0.25Z", "M-1,-0.1L-0.12,-0.1L-0.2,0.1L-1,0.1Z M0.12,-0.1L1,-0.1L1,0.1L0.2,0.1Z M0,-0.34L0.36,0.28L-0.36,0.28Z M0,-0.22L-0.25,0.21L0.25,0.21Z", "M-1,-0.1L1,-0.1L1,0.1L-1,0.1Z M-0.35,-0.29L-0.29,-0.35L0.35,0.29L0.29,0.35Z M0.29,-0.35L0.35,-0.29L-0.29,0.35L-0.35,0.29Z", "circle", "circle"]},
"legend": {"orient": "none", "legendX": 820, "legendY": 1, "values": ["10mm Depth, Inplane", "10mm Depth, Crossplane", "50mm Depth, Inplane", "50mm Depth, Crossplane"], "title": null, "labelExpr": "[split(datum.label, ', ')[0] + ',', split(datum.label, ', ')[1]]", "symbolSize": 2500, "symbolStrokeWidth": 0, "symbolOpacity": 1, "labelFont": "Lato", "labelFontSize": 31, "labelColor": "#000000", "labelOffset": 4, "labelLimit": 500, "labelBaseline": "middle", "fillColor": "#ffffff", "padding": 7, "rowPadding": 10}}
}},
{"mark": {"type": "line", "strokeWidth": 5, "interpolate": "monotone", "strokeJoin": "round", "strokeCap": "round"}, "encoding": {}},
{"transform": [{"filter": {"field": "series", "equal": "10mm Depth, Inplane"}}], "mark": {"type": "point", "shape": "diamond", "filled": false, "size": 300, "strokeWidth": 2, "opacity": 1}},
{"transform": [{"filter": {"field": "series", "equal": "10mm Depth, Crossplane"}}], "mark": {"type": "point", "shape": "square", "filled": false, "size": 240, "strokeWidth": 2, "opacity": 1}},
{"transform": [{"filter": {"field": "series", "equal": "50mm Depth, Inplane"}}], "mark": {"type": "point", "shape": "triangle-up", "filled": false, "size": 300, "strokeWidth": 2, "opacity": 1}},
{"transform": [{"filter": {"field": "series", "equal": "50mm Depth, Crossplane"}}], "mark": {"type": "point", "shape": "M-1,-1L1,1M-1,1L1,-1", "filled": false, "size": 240, "strokeWidth": 2, "opacity": 1}},
{"transform": [{"filter": {"field": "series", "equal": "100mm Depth, Inplane"}}], "mark": {"type": "point", "shape": "M-1,-1L1,1M-1,1L1,-1M0,-1.2L0,1.2", "filled": false, "size": 240, "strokeWidth": 2, "opacity": 1}},
{"transform": [{"filter": {"field": "series", "equal": "100mm Depth, Crossplane"}}], "mark": {"type": "point", "shape": "circle", "filled": false, "size": 256, "strokeWidth": 2, "opacity": 1}}
]
}
],
"resolve": {"scale": {"x": "independent", "y": "independent", "color": "independent", "shape": "independent"}, "legend": {"color": "independent", "shape": "independent"}},
"config": {
"view": {"stroke": null},
"font": "Lato",
"axis": {"labelFont": "Lato", "labelFontSize": 31, "labelColor": "#000000", "domainColor": "#868686", "domainWidth": 2, "tickColor": "#868686", "tickWidth": 2, "tickSize": 12, "gridColor": "#868686", "gridWidth": 2, "titleColor": "#000000", "labelPadding": 25},
"axisX": {"titleFont": "Lato", "titleFontSize": 30, "titleFontWeight": "bold"},
"axisY": {"titleFont": "Liberation Sans", "titleFontSize": 29, "titleFontWeight": "bold"},
"title": {"font": "Lato", "fontSize": 45, "fontWeight": "bold", "color": "#000000", "anchor": "middle", "frame": "group", "baseline": "bottom", "offset": -8},
"style": {"guide-label": {"lineHeight": 43}}
}
}
